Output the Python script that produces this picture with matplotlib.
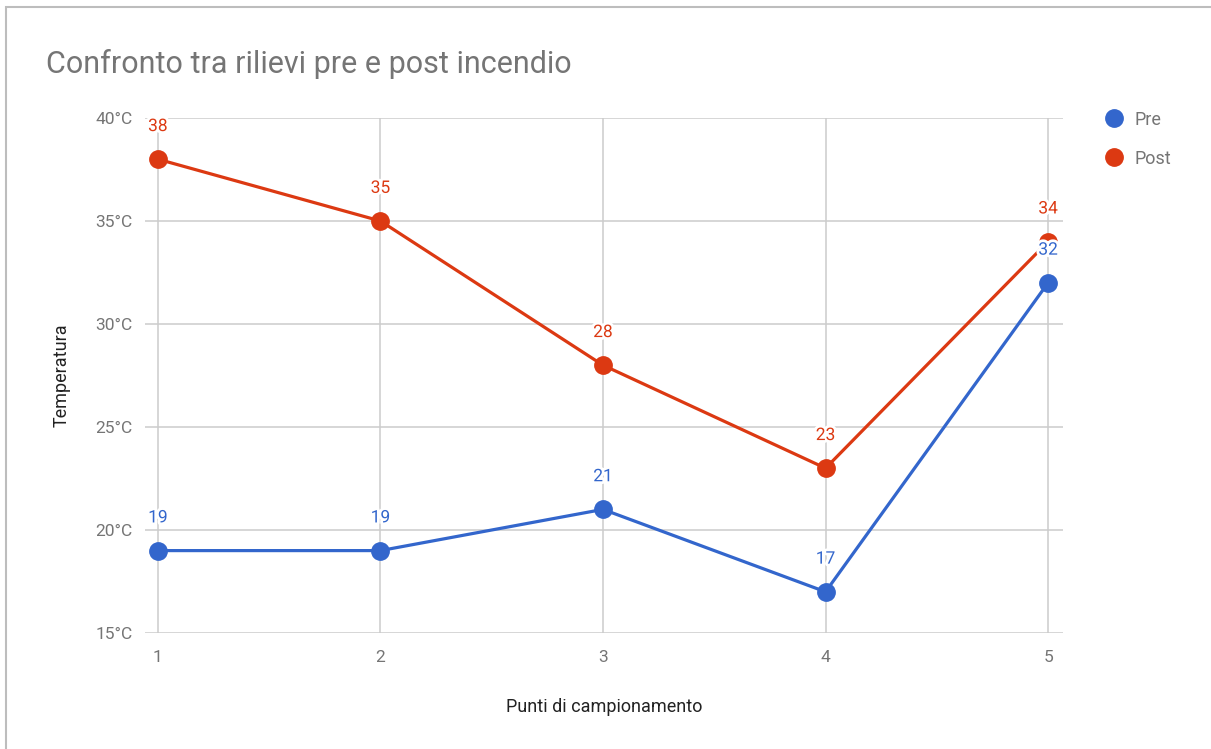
import matplotlib
matplotlib.use("Agg")
import matplotlib.pyplot as plt
import matplotlib.patheffects as pe
from matplotlib.patches import Rectangle

plt.rcParams['font.family'] = ['Roboto', 'DejaVu Sans']

# Data
points = [1, 2, 3, 4, 5]
pre = [19, 19, 21, 17, 32]
post = [38, 35, 28, 23, 34]
y_ticks = [15, 20, 25, 30, 35, 40]
y_tick_labels = [f"{v}°C" for v in y_ticks]
series_names = ["Pre", "Post"]

BLUE = "#3366CC"
RED = "#DC3912"
GRID = "#CCCCCC"
TXT = "#757575"

fig = plt.figure(figsize=(12.11, 7.49), dpi=100)
fig.patch.set_facecolor("white")

# Outer frame (top and left edges visible)
fig.add_artist(Rectangle((6 / 1211, -0.1), 1.2, 1.1 - 7 / 749,
                         transform=fig.transFigure, fill=False,
                         edgecolor="#BDBDBD", linewidth=1.5))

ax = fig.add_axes([145 / 1211, 1 - 633 / 749, (1063 - 145) / 1211, (633 - 118) / 749])
ax.set_xlim(0.942, 5.067)
ax.set_ylim(15, 40)

for s in ax.spines.values():
    s.set_visible(False)

ax.set_yticks(y_ticks)
ax.set_yticklabels(y_tick_labels)
ax.set_xticks(points)
ax.set_xticklabels([str(p) for p in points])
ax.tick_params(axis='both', length=0, labelsize=12.5, labelcolor=TXT)
ax.tick_params(axis='y', pad=9)
ax.tick_params(axis='x', pad=12)

# Gridlines
for v in y_ticks:
    ax.axhline(v, color=GRID, linewidth=1.1, zorder=0)
for p in points:
    ax.axvline(p, color=GRID, linewidth=1.1, zorder=0)

halo = [pe.withStroke(linewidth=4, foreground="white")]

for vals, color, name in [(pre, BLUE, series_names[0]), (post, RED, series_names[1])]:
    ax.plot(points, vals, color=color, linewidth=2.3, marker='o', markersize=12.5,
            label=name, zorder=3, clip_on=False)

for vals, color in [(post, RED), (pre, BLUE)]:
    for x, v in zip(points, vals):
        ax.annotate(str(v), (x, v), xytext=(0, 23.5), textcoords='offset points',
                    ha='center', va='center', fontsize=12.5, color=color,
                    path_effects=halo, zorder=5)

ax.set_ylabel("Temperatura", fontsize=13, color="#222222", labelpad=18)
ax.set_xlabel("Punti di campionamento", fontsize=13, color="#222222", labelpad=24)

fig.text(46 / 1211, 1 - 64 / 749, "Confronto tra rilievi pre e post incendio",
         fontsize=22, color=TXT, ha='left', va='center')

# Legend
for i, (name, color) in enumerate(zip(series_names, [BLUE, RED])):
    y = 1 - (118 + i * 39) / 749
    fig.lines.append(plt.Line2D([1114 / 1211], [y], transform=fig.transFigure,
                                marker='o', markersize=12.5, color=color, linestyle='none'))
    fig.text(1135 / 1211, y, name, fontsize=13, color=TXT, ha='left', va='center_baseline')

fig.savefig("out.png", dpi=100, facecolor="white")
